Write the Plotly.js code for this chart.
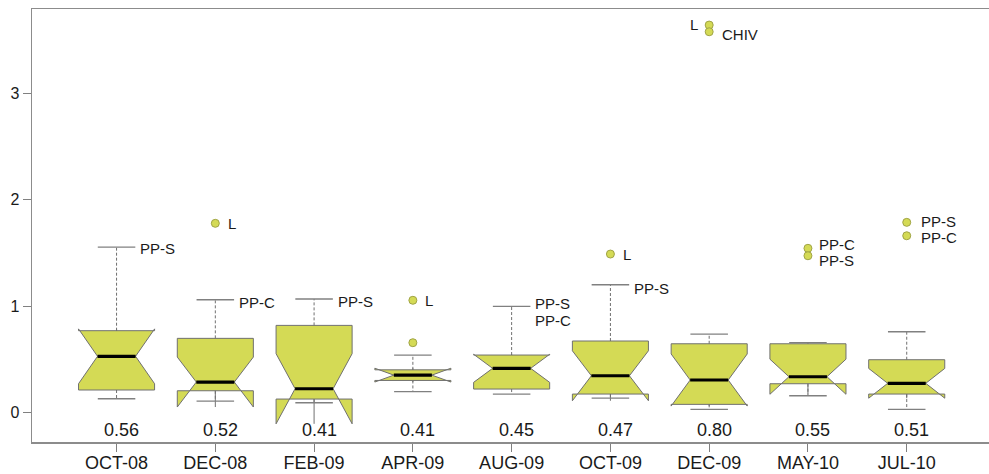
<!DOCTYPE html>
<html>
<head>
<meta charset="utf-8">
<script src="https://cdn.plot.ly/plotly-3.0.1.min.js"></script>
<style>html,body{margin:0;padding:0;background:#fff;}#chart{width:989px;height:474px;}</style>
</head>
<body>
<div id="chart"></div>
<script>
// ---- data ----
const categories = ["OCT-08","DEC-08","FEB-09","APR-09","AUG-09","OCT-09","DEC-09","MAY-10","JUL-10"];
const lowerWhisker = [0.128, 0.106, 0.090, 0.194, 0.172, 0.134, 0.028, 0.156, 0.028];
const q1Values     = [0.210, 0.203, 0.125, 0.300, 0.219, 0.172, 0.075, 0.269, 0.172];
const medianValues = [0.527, 0.285, 0.222, 0.350, 0.414, 0.344, 0.304, 0.335, 0.273];
const q3Values     = [0.768, 0.696, 0.818, 0.400, 0.539, 0.671, 0.645, 0.645, 0.495];
const upperWhisker = [1.555, 1.059, 1.066, 0.539, 0.997, 1.200, 0.736, 0.655, 0.758];
const notchSpan    = [0.258, 0.235, 0.330, 0.065, 0.132, 0.235, 0.245, 0.165, 0.140];
const boxStatLabels = ["0.56","0.52","0.41","0.41","0.45","0.47","0.80","0.55","0.51"];

// outliers: category index, value, label
const outlierCat   = [1, 3, 3, 5, 6, 6, 7, 7, 8, 8];
const outlierValue = [1.778, 1.054, 0.655, 1.489, 3.643, 3.580, 1.543, 1.473, 1.787, 1.661];
const outlierLabel = ["L", "L", "", "L", "L", "CHIV", "PP-C", "PP-S", "PP-S", "PP-C"];

// labels at upper whisker ends: category index, label
const whiskerLabelCat  = [0, 1, 2, 4, 4, 5];
const whiskerLabelText = ["PP-S", "PP-C", "PP-S", "PP-S", "PP-C", "PP-S"];

// ---- label placement (styling only) ----
const outlierLabelShift = [[12,0,"left"],[11,0,"left"],[0,0,"left"],[12,0,"left"],[-10,1,"right"],[12,-3,"left"],[10,4,"left"],[10,-5,"left"],[13,1,"left"],[13,-2,"left"]];
const whiskerLabelShiftY = [-1, -3, -2, 3, -14, -4];

const FILL = "#d4da55", EDGE = "#707070", TEXT = "#1a1a1a";
const FONT = "Liberation Sans, Arial, sans-serif";
const positions = categories.map((c, i) => i);
const BOXW = 0.77, CAPH = 0.19;

const traces = [];
traces.push({
  type: "box",
  x: positions,
  q1: q1Values, median: medianValues, q3: q3Values,
  lowerfence: q1Values, upperfence: q3Values,
  notched: true, notchspan: notchSpan, notchwidth: 0.25,
  width: BOXW, whiskerwidth: 0,
  fillcolor: FILL,
  line: {color: EDGE, width: 1},
  boxpoints: false, hoverinfo: "skip", showlegend: false
});

// whiskers (dashed)
const wx = [], wy = [];
positions.forEach((p, i) => {
  wx.push(p, p, null, p, p, null);
  wy.push(q3Values[i], upperWhisker[i], null, q1Values[i], lowerWhisker[i], null);
});
traces.push({type: "scatter", mode: "lines", x: wx, y: wy, line: {color: EDGE, width: 1, dash: "3px,2px"}, hoverinfo: "skip", showlegend: false});

// caps
const cx = [], cy = [];
positions.forEach((p, i) => {
  cx.push(p - CAPH, p + CAPH, null, p - CAPH, p + CAPH, null);
  cy.push(upperWhisker[i], upperWhisker[i], null, lowerWhisker[i], lowerWhisker[i], null);
});
traces.push({type: "scatter", mode: "lines", x: cx, y: cy, line: {color: "#808080", width: 1.3}, hoverinfo: "skip", showlegend: false});

// medians
const mx = [], my = [];
positions.forEach((p, i) => {
  mx.push(p - BOXW / 4, p + BOXW / 4, null);
  my.push(medianValues[i], medianValues[i], null);
});
traces.push({type: "scatter", mode: "lines", x: mx, y: my, line: {color: "#000", width: 3.2}, hoverinfo: "skip", showlegend: false});

// outliers
traces.push({type: "scatter", mode: "markers", x: outlierCat, y: outlierValue,
  marker: {size: 8, color: FILL, line: {color: "#a0a446", width: 1}}, hoverinfo: "skip", showlegend: false});

const annotations = [];
outlierLabel.forEach((t, k) => {
  if (!t) return;
  const s = outlierLabelShift[k];
  annotations.push({x: outlierCat[k], y: outlierValue[k], text: t, showarrow: false,
    xanchor: s[2], xshift: s[0], yshift: s[1], borderpad: 0, font: {family: FONT, size: 15, color: TEXT}});
});
whiskerLabelText.forEach((t, k) => {
  const c = whiskerLabelCat[k];
  annotations.push({x: c + CAPH, y: upperWhisker[c], text: t, showarrow: false,
    xanchor: "left", xshift: 4, yshift: whiskerLabelShiftY[k], borderpad: 0, font: {family: FONT, size: 15, color: TEXT}});
});
boxStatLabels.forEach((t, i) => {
  annotations.push({x: positions[i] + 0.05, y: -0.167, text: t, showarrow: false,
    xanchor: "center", font: {family: FONT, size: 18, color: TEXT}});
});

const layout = {
  width: 989, height: 474,
  margin: {l: 32, r: 0, t: 9, b: 32},
  paper_bgcolor: "#fff", plot_bgcolor: "#fff",
  showlegend: false,
  xaxis: {
    range: [-0.856, 8.833], tickmode: "array", tickvals: positions, ticktext: categories,
    ticks: "outside", ticklen: 8, tickcolor: "#808080", tickwidth: 1,
    ticklabelstandoff: -4,
    showline: true, mirror: true, linecolor: "#8c8c8c", linewidth: 1.5,
    showgrid: false, zeroline: false,
    tickfont: {family: FONT, size: 18, color: TEXT}
  },
  yaxis: {
    range: [-0.279, 3.794], tickmode: "array", tickvals: [0, 1, 2, 3], ticktext: ["0", "1", "2", "3"],
    ticks: "outside", ticklen: 8, tickcolor: "#808080", tickwidth: 1,
    showline: true, linecolor: "#8c8c8c", linewidth: 1.5,
    showgrid: false, zeroline: false,
    tickfont: {family: FONT, size: 16, color: TEXT}
  },
  annotations: annotations
};

Plotly.newPlot("chart", traces, layout, {staticPlot: true, displayModeBar: false});
</script>
</body>
</html>
